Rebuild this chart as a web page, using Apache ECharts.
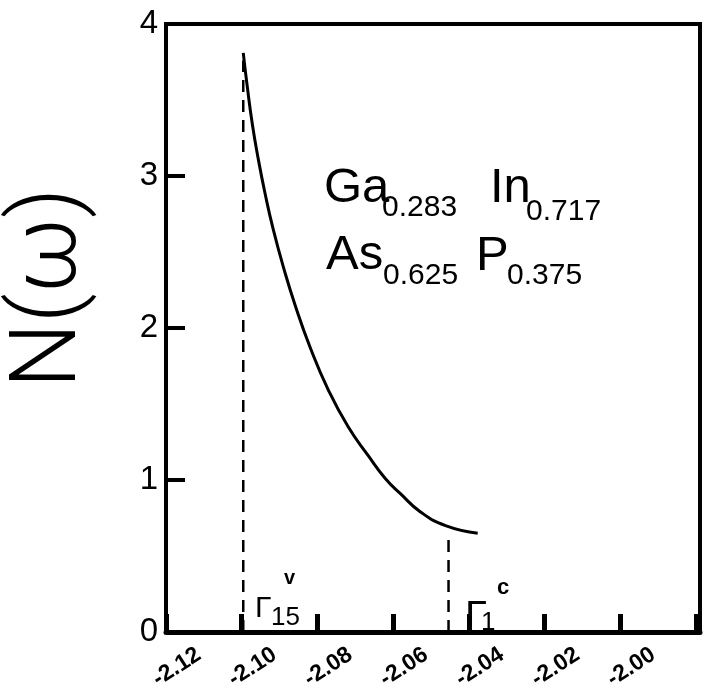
<!DOCTYPE html>
<html>
<head>
<meta charset="utf-8">
<script src="https://cdn.jsdelivr.net/npm/echarts@6/dist/echarts.min.js"></script>
<style>
  html, body { margin: 0; padding: 0; background: #fff; }
  #chart { width: 712px; height: 698px; }
</style>
</head>
<body>
<div id="chart"></div>
<script>
// Energy axis (Ry) and tick labels
const xTickLabels = ['-2.12', '-2.10', '-2.08', '-2.06', '-2.04', '-2.02', '-2.00'];
const yTickLabels = ['0', '1', '2', '3', '4'];

// Density of states N(ω) between the Γ15 (valence) and Γ1 (conduction) edges
const curveX = [-2.0996, -2.0986, -2.0972, -2.0957, -2.0938, -2.0917, -2.0890, -2.0859, -2.0819,
                -2.0771, -2.0719, -2.0666, -2.0621, -2.0581, -2.0528, -2.0462, -2.0377];
const curveY = [3.81, 3.60, 3.34, 3.12, 2.88, 2.65, 2.40, 2.15, 1.87,
                1.59, 1.35, 1.16, 1.01, 0.91, 0.79, 0.70, 0.65];

// Band-edge energies and the heights of their dashed markers
const edgeX = [-2.0996, -2.0454];
const edgeTop = [3.76, 0.63];

const FONT = "'Liberation Sans', Arial, sans-serif";
const chart = echarts.init(document.getElementById('chart'), null, { renderer: 'canvas' });

const curveData = curveX.map((x, i) => [x, curveY[i]]);
const edgeSeries = edgeX.map((x, i) => ({
  type: 'line',
  data: [[x, 0], [x, edgeTop[i]]],
  symbol: 'none',
  silent: true,
  lineStyle: { color: '#000', width: 2.5, type: [12, 8] }
}));

function txt(text, x, y, size, weight, rotation) {
  return {
    type: 'text', x: x, y: y, rotation: rotation || 0, silent: true,
    style: {
      text: text, fill: '#000',
      font: (weight || 'normal') + ' ' + size + 'px ' + FONT,
      align: 'left', verticalAlign: 'middle'
    }
  };
}

chart.setOption({
  animation: false,
  backgroundColor: '#fff',
  grid: {
    left: 166, right: 12, top: 24, bottom: 66,
    show: true, borderColor: '#000', borderWidth: 4, backgroundColor: 'transparent'
  },
  xAxis: {
    type: 'value',
    min: -2.12, max: -1.979, interval: 0.02,
    splitLine: { show: false },
    axisLine: { show: true, lineStyle: { color: '#000', width: 5 } },
    axisTick: { show: true, inside: true, length: 18, lineStyle: { color: '#000', width: 5 } },
    axisLabel: {
      show: true, rotate: 33, margin: 42,
      align: 'center', verticalAlign: 'middle', padding: [0, 0, 0, 26],
      showMaxLabel: false,
      color: '#000', fontFamily: FONT, fontSize: 23, fontWeight: 'bold',
      formatter: v => {
        const s = v.toFixed(2);
        return xTickLabels.indexOf(s) >= 0 ? s : '';
      }
    }
  },
  yAxis: {
    type: 'value',
    min: 0, max: 4, interval: 1,
    splitLine: { show: false },
    axisLine: { show: true, lineStyle: { color: '#000', width: 4 } },
    axisTick: { show: true, inside: true, length: 19, lineStyle: { color: '#000', width: 4 } },
    axisLabel: {
      margin: 8, color: '#000', fontFamily: FONT, fontSize: 33,
      formatter: v => yTickLabels[Math.round(v)]
    }
  },
  series: [
    {
      type: 'line',
      data: curveData,
      smooth: 0.5,
      symbol: 'none',
      silent: true,
      lineStyle: { color: '#000', width: 3 }
    }
  ].concat(edgeSeries),
  graphic: [
    // vertical axis title
    {
      type: 'text', x: 52, y: 288, rotation: Math.PI / 2, silent: true,
      style: {
        text: 'N(ω)', fill: '#000',
        font: '300 92px Roboto, ' + FONT,
        align: 'center', verticalAlign: 'middle'
      }
    },
    // alloy composition
    txt('Ga', 324, 188, 49),
    txt('0.283', 382, 208, 30),
    txt('In', 490, 188, 49),
    txt('0.717', 526, 212, 30),
    txt('As', 326, 255, 49),
    txt('0.625', 383, 276, 30),
    txt('P', 476, 256, 49),
    txt('0.375', 507, 276, 30),
    // band-edge labels
    txt('Γ', 255, 609, 30),
    txt('15', 271, 618, 26),
    txt('v', 284, 578, 20, 'bold'),
    txt('Γ', 465, 618, 40),
    txt('1', 481, 623, 26),
    txt('c', 497, 588, 22, 'bold')
  ]
});
</script>
</body>
</html>
